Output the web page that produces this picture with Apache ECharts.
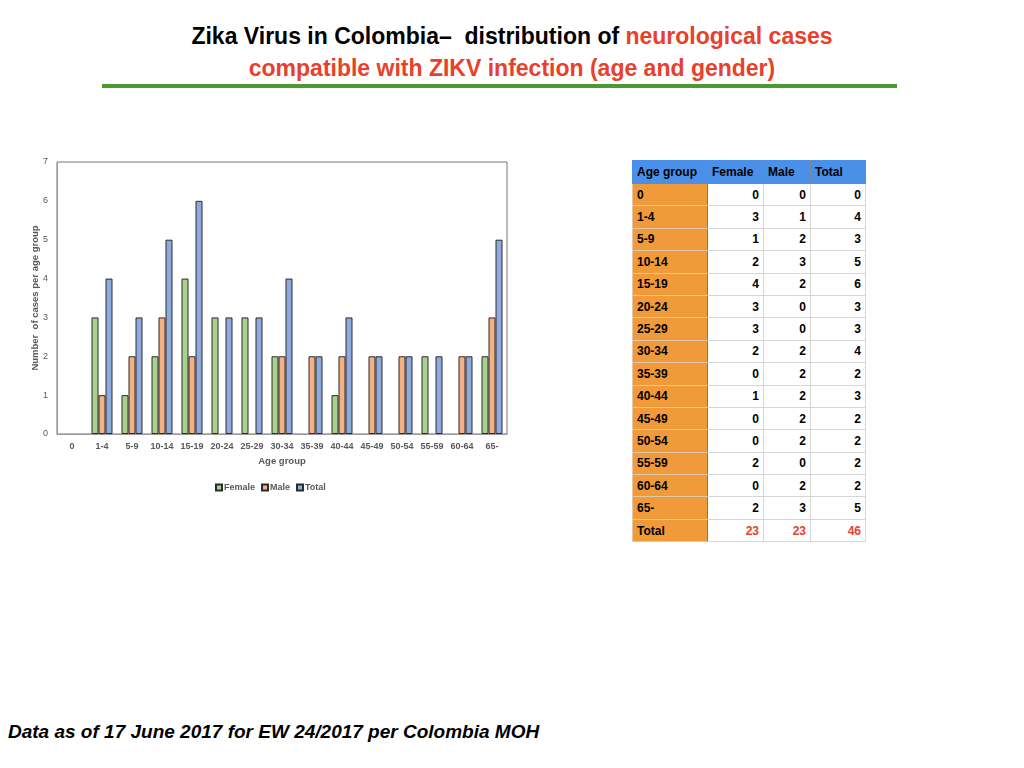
<!DOCTYPE html>
<html>
<head>
<meta charset="utf-8">
<script src="https://cdn.jsdelivr.net/npm/echarts@6/dist/echarts.min.js"></script>
<style>
	html, body {margin: 0; padding: 0; background: #fff;}
	body {width: 1024px; height: 768px; position: relative; overflow: hidden; font-family: 'Liberation Sans', Arial, sans-serif;}
	#title {position: absolute; left: 0; width: 1024px; top: 20px; text-align: center; font-family: 'Liberation Sans Narrow', 'Liberation Sans', sans-serif; font-weight: bold; font-size: 23px; line-height: 32px; color: #000;}
	#title .red {color: #e8402a;}
	#rule {position: absolute; left: 102px; top: 84px; width: 795px; height: 4px; background: #4a9a2e;}
	#chart {position: absolute; left: 0; top: 140px; width: 540px; height: 380px;}
	#tbl {position: absolute; left: 632px; top: 160px; border-collapse: collapse; font-size: 12px; font-weight: bold;}
	#tbl td, #tbl th {height: 22.4px; padding: 0 4px; border: 1px solid #d6d6d6; box-sizing: border-box;}
	#tbl th {background: #4a90e8; text-align: left; height: 23px; border-color: #4a90e8; border-right: 1px solid #7a8a9a;}
	#tbl td.grp {background: #f09a3a; text-align: left; border-color: #e0c8a8; border-right: 1px solid #777;}
	#tbl td.num {text-align: right;}
	#tbl tr.total td.num {color: #e8402a;}
	#foot {position: absolute; left: 8px; top: 721px; font-size: 19px; font-weight: bold; font-style: italic;}
</style>
</head>
<body>
<div id="title">Zika Virus in Colombia&#8211;&nbsp; distribution of <span class="red">neurological cases</span><br><span class="red">compatible with ZIKV infection (age and gender)</span></div>
<div id="rule"></div>
<div id="chart"></div>
<table id="tbl"></table>
<div id="foot">Data as of 17 June 2017 for EW 24/2017 per Colombia MOH</div>
<script>
	let ageGroups = ['0', '1-4', '5-9', '10-14', '15-19', '20-24', '25-29', '30-34', '35-39', '40-44', '45-49', '50-54', '55-59', '60-64', '65-'];
	let female = [0, 3, 1, 2, 4, 3, 3, 2, 0, 1, 0, 0, 2, 0, 2];
	let male = [0, 1, 2, 3, 2, 0, 0, 2, 2, 2, 2, 2, 0, 2, 3];
	let total = [0, 4, 3, 5, 6, 3, 3, 4, 2, 3, 2, 2, 2, 2, 5];
	let yTicks = [0, 1, 2, 3, 4, 5, 6, 7];

	// table built from the same arrays
	let sum = (arr) => arr.reduce((a, b) => a + b, 0);
	let rows = ['<tr><th style="width:75px">Age group</th><th style="width:56px">Female</th><th style="width:47px">Male</th><th style="width:55px">Total</th></tr>'];
	ageGroups.forEach((g, i) => {
		rows.push('<tr><td class="grp">' + g + '</td><td class="num">' + female[i] + '</td><td class="num">' + male[i] + '</td><td class="num">' + total[i] + '</td></tr>');
	});
	rows.push('<tr class="total"><td class="grp">Total</td><td class="num">' + sum(female) + '</td><td class="num">' + sum(male) + '</td><td class="num">' + sum(total) + '</td></tr>');
	document.getElementById('tbl').innerHTML = rows.join('');

	let chart = echarts.init(document.getElementById('chart'), null, {renderer: 'canvas'});
	let barStyle = (color) => ({color: color, borderColor: '#2b2b2b', borderWidth: 1});
	// zero values get no outline, so no flat line is drawn
	let barData = (arr) => arr.map((v) => (v === 0 ? {value: v, itemStyle: {borderWidth: 0}} : v));
	chart.setOption({
		animation: false,
		textStyle: {fontFamily: 'Liberation Sans, Arial, sans-serif'},
		grid: {left: 57, top: 22, width: 450, height: 272, show: true, borderColor: '#777', borderWidth: 1},
		legend: {
			top: 338,
			left: 210,
			itemWidth: 6,
			itemHeight: 6,
			itemGap: 6,
			icon: 'rect',
			textStyle: {fontSize: 9, color: '#595959', fontWeight: 'bold', padding: [0, 0, 0, -3]},
			data: ['Female', 'Male', 'Total'],
		},
		xAxis: {
			type: 'category',
			data: ageGroups,
			name: 'Age group',
			nameLocation: 'middle',
			nameGap: 22,
			nameTextStyle: {fontSize: 9.5, color: '#595959', fontWeight: 'bold'},
			axisLine: {lineStyle: {color: '#999'}},
			axisTick: {show: false},
			axisLabel: {fontSize: 9, color: '#595959', fontWeight: 'bold', interval: 0, margin: 8},
		},
		yAxis: {
			type: 'value',
			min: yTicks[0],
			max: yTicks[yTicks.length - 1],
			interval: 1,
			name: 'Number  of cases per age group',
			nameLocation: 'middle',
			nameGap: 17,
			nameMoveOverlap: false,
			nameTextStyle: {fontSize: 9.5, color: '#595959', fontWeight: 'bold'},
			axisLine: {show: true, lineStyle: {color: '#999'}},
			axisTick: {show: false},
			splitLine: {show: false},
			axisLabel: {fontSize: 9, color: '#595959', margin: 9},
		},
		series: [
			{name: 'Female', type: 'bar', data: barData(female), itemStyle: barStyle('#a9d18e'), barGap: '0%', barCategoryGap: '30%'},
			{name: 'Male', type: 'bar', data: barData(male), itemStyle: barStyle('#f4b183')},
			{name: 'Total', type: 'bar', data: barData(total), itemStyle: barStyle('#8faadc')},
		],
	});
</script>
</body>
</html>
